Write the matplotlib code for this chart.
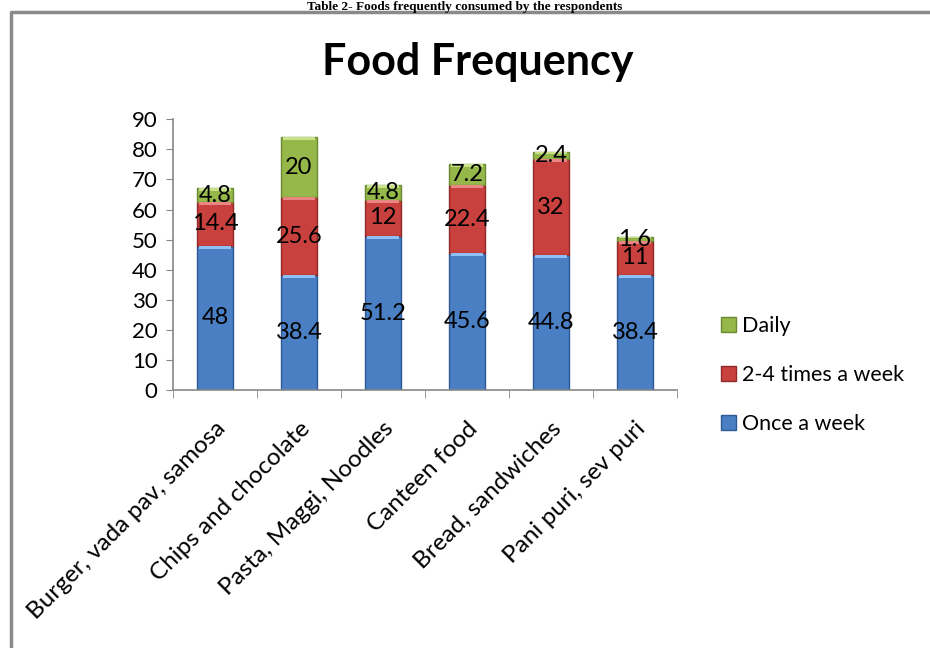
import matplotlib
matplotlib.use("Agg")
import matplotlib.pyplot as plt
import numpy as np

plt.rcParams["font.family"] = ["Lato", "DejaVu Sans"]

categories = ["Burger, vada pav, samosa", "Chips and chocolate", "Pasta, Maggi, Noodles",
              "Canteen food", "Bread, sandwiches", "Pani puri, sev puri"]
once_week = [48, 38.4, 51.2, 45.6, 44.8, 38.4]
two_four = [14.4, 25.6, 12, 22.4, 32, 11]
daily = [4.8, 20, 4.8, 7.2, 2.4, 1.6]
series_names = ["Once a week", "2-4 times a week", "Daily"]

colors = ["#4a7fc4", "#c9413e", "#96b84a"]
edges = ["#2d5a94", "#8f2a28", "#6b8a30"]
lights = ["#8fc0f5", "#e98582", "#c8e08a"]

fig = plt.figure(figsize=(9.3, 6.48), dpi=100)
ax = fig.add_axes([0.186, 0.398, 0.542, 0.418])

x = np.arange(len(categories))
w = 0.42
bottom = np.zeros(len(categories))
handles = []
for vals, name, c, ec, lc in zip([once_week, two_four, daily], series_names, colors, edges, lights):
    vals = np.array(vals, dtype=float)
    b = ax.bar(x, vals, w, bottom=bottom, color=c, edgecolor=ec, linewidth=1.0, label=name, zorder=2)
    handles.append(b)
    # bevel highlight at top of each segment
    hl = np.minimum(1.0, vals * 0.3)
    ax.bar(x, hl, w * 0.9, bottom=bottom + vals - hl, color=lc, linewidth=0, zorder=3)
    for xi, bi, v in zip(x, bottom, vals):
        ax.text(xi, bi + v / 2, f"{v:g}", ha="center", va="center", fontsize=17, color="black", zorder=4)
    bottom = bottom + vals

ax.set_xlim(-0.5, len(categories) - 0.5)
ax.set_ylim(0, 90)
ax.set_yticks(range(0, 91, 10))
ax.tick_params(axis="y", labelsize=16, length=5, color="#888888", pad=6)
ax.set_xticks(x)
ax.set_xticklabels(categories, rotation=45, ha="right", rotation_mode="anchor", fontsize=17.5)
ax.tick_params(axis="x", length=0, pad=20)
ax.set_xticks(np.arange(-0.5, len(categories), 1), minor=True)
ax.tick_params(axis="x", which="minor", length=6, color="#888888")
for s in ["top", "right"]:
    ax.spines[s].set_visible(False)
for s in ["left", "bottom"]:
    ax.spines[s].set_color("#888888")
    ax.spines[s].set_linewidth(1.2)

fig.text(0.514, 0.904, "Food Frequency", ha="center", va="center", fontsize=31, fontweight="bold")

leg = fig.legend(handles[::-1], series_names[::-1], loc="center left", bbox_to_anchor=(0.754, 0.421),
                 frameon=False, fontsize=15.5, handlelength=0.7, handleheight=0.7, labelspacing=1.35,
                 handletextpad=0.3)

# outer chart border and caption above
fig.add_artist(plt.Line2D([0.0113, 0.0113, 1.0], [0.0, 0.981, 0.981], transform=fig.transFigure,
                          color="#8a8a8a", linewidth=2.5))
fig.text(0.5, 0.999, "Table 2- Foods frequently consumed by the respondents", ha="center", va="top",
         fontsize=9.5, fontweight="bold", family="Liberation Serif")

fig.savefig("out.png", dpi=100)
